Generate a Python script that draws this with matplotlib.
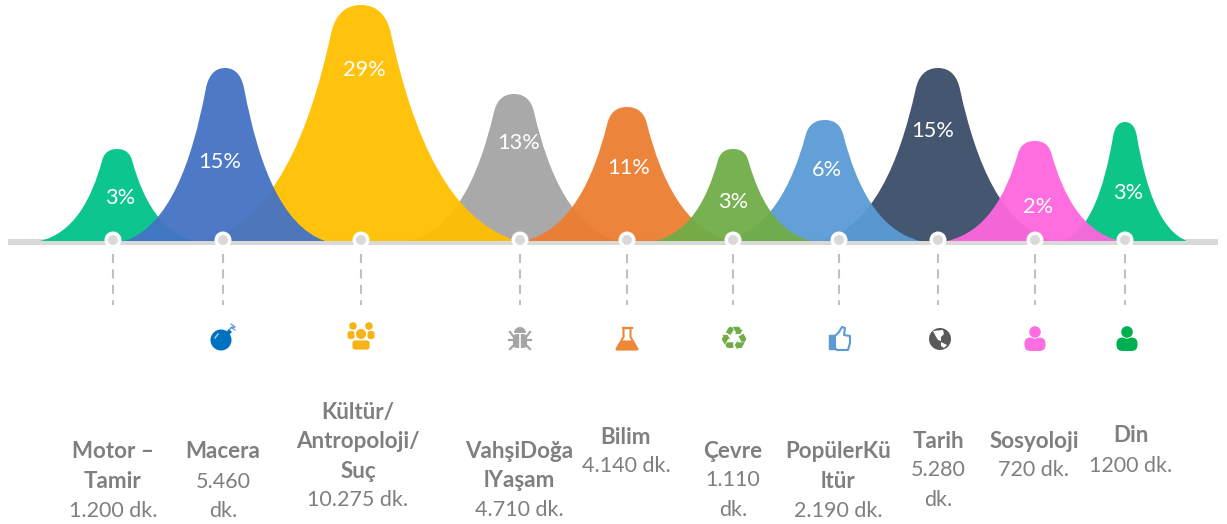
import matplotlib
matplotlib.use('Agg')
import matplotlib.pyplot as plt
from matplotlib.path import Path
from matplotlib.patches import PathPatch, Circle, Polygon, FancyBboxPatch, Rectangle, Wedge

plt.rcParams['font.family'] = ['Lato', 'DejaVu Sans']

# Chart values
categories = ['Motor –\nTamir', 'Macera', 'Kültür/\nAntropoloji/\nSuç', 'VahşiDoğa\nlYaşam', 'Bilim',
              'Çevre', 'PopülerKü\nltür', 'Tarih', 'Sosyoloji', 'Din']
durations = ['1.200 dk.', '5.460\ndk.', '10.275 dk.', '4.710 dk.', '4.140 dk.',
             '1.110\ndk.', '2.190 dk.', '5.280\ndk.', '720 dk.', '1200 dk.']
percents = ['3%', '15%', '29%', '13%', '11%', '3%', '6%', '15%', '2%', '3%']
# Height of each peak (px)
peak_heights = [92, 173, 236, 147, 134, 92, 121, 173, 100, 119]

# Layout (pixels of the reference image)
base_y = 241
peak_x = [117, 225, 361, 514, 627, 733, 825, 938, 1035, 1125]
peak_left = [40, 125, 205, 410, 525, 655, 725, 822, 947, 1063]
peak_right = [195, 325, 517, 618, 730, 812, 920, 1052, 1120, 1187]
dot_x = [113, 223, 361, 520, 627, 733, 839, 938, 1035, 1125]
colors = ['#00c389', '#4472c4', '#ffc000', '#a5a5a5', '#ed7d31',
          '#70ad47', '#5b9bd5', '#3b4e68', '#ff66dd', '#00c281']
zorders = [1, 4, 3, 2, 3, 5, 4, 2, 4, 3]
pct_x = [120, 220, 364, 519, 629, 733, 827, 933, 1038, 1128]
pct_y = [198, 162, 70, 143, 168, 202, 170, 131, 207, 193]
text_x = [113, 223, 358, 519, 626, 733, 838, 938, 1034, 1131]
text_y = [452, 452, 412, 451, 437, 451, 452, 441, 441, 436]
line_step = 29.5
icon_y = 339
icon_x = [221, 361, 520, 627, 733, 840, 940, 1035, 1127]

fig = plt.figure(figsize=(12.27, 5.24), dpi=100)
ax = fig.add_axes([0, 0, 1, 1])
ax.set_xlim(0, 1227)
ax.set_ylim(524, 0)
ax.axis('off')


def half_peak(c, edge, top):
    # one side of a bell, from the top point down to the base
    w = edge - c
    h = base_y - top
    s = 0.195 * w
    sy = top + 0.13 * h
    return [(c + 0.6 * s, top), (c + s - 0.022 * w, top + 0.055 * h), (c + s, sy),
            (c + s + 0.14 * w, sy + 0.42 * h), (c + 0.56 * w, base_y - 0.09 * h), (edge, base_y)]


def peak(c, left, right, height, color, z):
    top = base_y - height
    r = half_peak(c, right, top)
    l = half_peak(c, left, top)
    # left side is walked from base to top, so reverse it
    back = l[::-1][1:] + [(c, top)]
    verts = [(left, base_y)] + back + r + [(left, base_y)]
    codes = [Path.MOVETO] + [Path.CURVE4] * 12 + [Path.CLOSEPOLY]
    ax.add_patch(PathPatch(Path(verts, codes), fc=color, ec='none', alpha=0.95, zorder=z))


# Base band
ax.add_patch(Rectangle((8, 239), 1210, 6, fc='#d9d9d9', ec='none', zorder=0))

for i in range(len(categories)):
    peak(peak_x[i], peak_left[i], peak_right[i], peak_heights[i], colors[i], zorders[i])
    ax.text(pct_x[i], pct_y[i], percents[i], color='white', fontsize=15.7, ha='center', va='center', zorder=10)
    # Dot and dashed stem
    ax.add_patch(Circle((dot_x[i], 240), 8.5, fc='white', ec='none', zorder=8))
    ax.add_patch(Circle((dot_x[i], 240), 5, fc='#d9d9d9', ec='none', zorder=9))
    ax.plot([dot_x[i], dot_x[i]], [254, 305], color='#bfbfbf', lw=1.5,
            dashes=(4.33, 3.07), zorder=1, dash_capstyle='butt')
    # Text block under the icon
    y = text_y[i]
    for line in categories[i].split('\n'):
        ax.text(text_x[i], y, line, color='#7f7f7f', fontsize=16.1, fontweight='bold', ha='center', va='center')
        y += line_step
    for line in durations[i].split('\n'):
        ax.text(text_x[i], y, line, color='#7f7f7f', fontsize=15.5, ha='center', va='center')
        y += line_step


def person(x, color):
    # domed shoulders, then a white gap below the head
    ax.add_patch(FancyBboxPatch((x - 8.5, icon_y + 0.5), 17, 9.5, boxstyle='round,pad=2,rounding_size=6', fc=color, ec='none'))
    ax.add_patch(Circle((x, icon_y - 7), 6.6, fc='white', ec='none'))
    ax.add_patch(Circle((x, icon_y - 7), 5.8, fc=color, ec='none'))


# Bomb
ax.add_patch(Circle((icon_x[0], 340), 10.5, fc='#0070c0', ec='none'))
ax.add_patch(Polygon([(226, 332), (229, 329), (232, 332), (229, 335)], fc='#0070c0', ec='none'))
ax.plot([229, 232], [330, 327], color='#4a90d0', lw=1)
ax.plot([231, 235, 232, 235], [324, 327, 328, 330], color='#4a90d0', lw=0.8)
ax.plot([215, 218], [338, 334], color='white', lw=1, alpha=0.7)

# People
c = '#f8b318'
x = icon_x[1]
for dx, dy in [(-8, -14), (8, -14)]:
    ax.add_patch(Circle((x + dx, icon_y + dy + 1), 3.8, fc=c, ec='none'))
for dx in (-10, 10):
    ax.add_patch(FancyBboxPatch((x + dx - 2.5, icon_y - 7), 5, 6, boxstyle='round,pad=1,rounding_size=2.5', fc=c, ec='none'))
ax.add_patch(Circle((x, icon_y - 5), 5.6, fc=c, ec='white', lw=0.8, zorder=3))
ax.add_patch(FancyBboxPatch((x - 8, icon_y + 2), 16, 8, boxstyle='round,pad=1,rounding_size=3', fc=c, ec='white', lw=0.6, zorder=2))

# Bug
c = '#a5a5a5'
x = icon_x[2]
ax.add_patch(Wedge((x, icon_y - 6), 6, 180, 360, fc=c, ec='none'))
ax.add_patch(FancyBboxPatch((x - 7, icon_y - 5), 14, 14, boxstyle='round,pad=0,rounding_size=4', fc=c, ec='none'))
ax.plot([x, x], [icon_y - 4, icon_y + 9], color='white', lw=1.2)
for sx in (-1, 1):
    ax.plot([x + sx * 7, x + sx * 10], [icon_y - 3, icon_y - 7], color=c, lw=1.6)
    ax.plot([x + sx * 7, x + sx * 11], [icon_y + 1, icon_y + 1], color=c, lw=1.6)
    ax.plot([x + sx * 6, x + sx * 10], [icon_y + 6, icon_y + 10], color=c, lw=1.6)

# Flask
c = '#ed8936'
x = icon_x[3]
ax.plot([x - 4.5, x + 4.5], [328, 328], color=c, lw=1.6)
ax.add_patch(Polygon([(x - 3.5, 328), (x - 3.5, 337), (x - 10.5, 349), (x + 10.5, 349), (x + 3.5, 337), (x + 3.5, 328)],
                     closed=True, fc='white', ec=c, lw=1.5, joinstyle='round'))
ax.add_patch(Polygon([(x - 6, 341), (x + 6, 341), (x + 10.5, 350), (x - 10.5, 350)], fc=c, ec=c, lw=0.8, joinstyle='round'))

# Recycle
ax.text(icon_x[4], 341, '\u267b', color='#70ad47', fontsize=24, family='DejaVu Sans', ha='center', va='center')

# Thumb
c = '#5b9bd5'
x = icon_x[5]
ax.add_patch(Polygon([(x - 11, 335), (x - 5, 335), (x - 5, 349), (x - 11, 349)], fc=c, ec=c, lw=1, joinstyle='round'))
ax.add_patch(Polygon([(x - 5, 336), (x - 1, 332), (x + 2, 327), (x + 5, 328), (x + 4, 335), (x + 10, 336), (x + 10, 343),
                      (x + 8, 350), (x - 3, 350), (x - 5, 348)], fc='white', ec=c, lw=1.5, joinstyle='round'))

# Globe
x = icon_x[6]
ax.add_patch(Circle((x, icon_y), 11, fc='#595959', ec='none'))
ax.add_patch(Polygon([(x - 7, icon_y - 8), (x + 3, icon_y - 9), (x + 4, icon_y - 5), (x + 1, icon_y - 2), (x + 1, icon_y + 2),
                      (x - 2, icon_y + 1), (x - 5, icon_y - 4)], fc='white', ec='none'))
ax.add_patch(Polygon([(x + 1, icon_y + 3), (x + 7, icon_y + 6), (x + 4, icon_y + 9), (x + 1, icon_y + 7)], fc='white', ec='none'))

# Person icons
person(icon_x[7], '#ff6ee0')
person(icon_x[8], '#00b050')

fig.savefig('out.png', dpi=100)
